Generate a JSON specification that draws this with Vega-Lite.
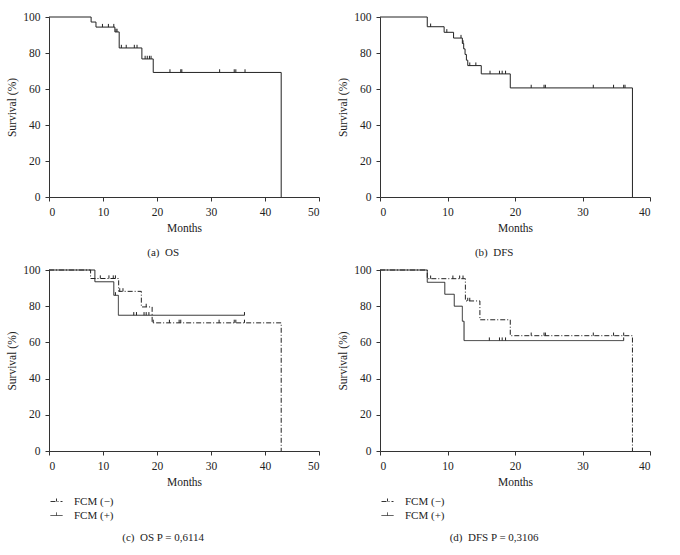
{
  "$schema": "https://vega.github.io/schema/vega-lite/v6.json",
  "padding": {"left": 6, "top": 11, "right": 5, "bottom": 5},
  "background": "white",
  "bounds": "flush",
  "columns": 2,
  "spacing": {"row": 73, "column": 61},
  "datasets": {
    "a_curve": [
      {"month": 0, "surv": 100}, {"month": 7.8, "surv": 97.2}, {"month": 8.7, "surv": 94.4},
      {"month": 12.2, "surv": 91.7}, {"month": 13.0, "surv": 82.8}, {"month": 17.2, "surv": 76.7},
      {"month": 19.3, "surv": 69.2}, {"month": 43.0, "surv": 0}
    ],
    "a_cens": [
      {"month": 9.9, "surv": 94.4}, {"month": 11.0, "surv": 94.4}, {"month": 12.0, "surv": 94.4},
      {"month": 12.4, "surv": 91.7}, {"month": 12.6, "surv": 91.7},
      {"month": 13.4, "surv": 82.8}, {"month": 14.3, "surv": 82.8}, {"month": 15.8, "surv": 82.8}, {"month": 16.3, "surv": 82.8},
      {"month": 17.8, "surv": 76.7}, {"month": 18.2, "surv": 76.7}, {"month": 18.6, "surv": 76.7}, {"month": 18.9, "surv": 76.7},
      {"month": 22.4, "surv": 69.2}, {"month": 24.4, "surv": 69.2}, {"month": 24.6, "surv": 69.2}, {"month": 31.6, "surv": 69.2},
      {"month": 34.3, "surv": 69.2}, {"month": 34.6, "surv": 69.2}, {"month": 36.3, "surv": 69.2}
    ],
    "b_curve": [
      {"month": 0, "surv": 100}, {"month": 7.0, "surv": 94.6}, {"month": 9.5, "surv": 91.5},
      {"month": 10.9, "surv": 88.3}, {"month": 12.2, "surv": 85.3}, {"month": 12.4, "surv": 82.3},
      {"month": 12.6, "surv": 79.2}, {"month": 12.8, "surv": 76.0}, {"month": 13.0, "surv": 73.0},
      {"month": 15.0, "surv": 68.4}, {"month": 19.3, "surv": 60.6}, {"month": 37.4, "surv": 0}
    ],
    "b_cens": [
      {"month": 7.5, "surv": 94.6}, {"month": 9.9, "surv": 91.5}, {"month": 12.0, "surv": 88.3}, {"month": 12.3, "surv": 85.3},
      {"month": 13.3, "surv": 73.0}, {"month": 14.2, "surv": 73.0},
      {"month": 16.3, "surv": 68.4}, {"month": 17.7, "surv": 68.4}, {"month": 18.1, "surv": 68.4}, {"month": 18.6, "surv": 68.4},
      {"month": 22.4, "surv": 60.6}, {"month": 24.3, "surv": 60.6}, {"month": 24.5, "surv": 60.6}, {"month": 31.6, "surv": 60.6},
      {"month": 34.6, "surv": 60.6}, {"month": 36.1, "surv": 60.6}, {"month": 36.3, "surv": 60.6}
    ],
    "c_curve": [
      {"group": "FCM (−)", "month": 0, "surv": 100}, {"group": "FCM (−)", "month": 7.7, "surv": 95.3},
      {"group": "FCM (−)", "month": 12.9, "surv": 88.2}, {"group": "FCM (−)", "month": 17.1, "surv": 79.6},
      {"group": "FCM (−)", "month": 19.1, "surv": 70.8}, {"group": "FCM (−)", "month": 43.0, "surv": 0},
      {"group": "FCM (+)", "month": 0, "surv": 100}, {"group": "FCM (+)", "month": 8.5, "surv": 93.5},
      {"group": "FCM (+)", "month": 12.0, "surv": 86.0}, {"group": "FCM (+)", "month": 12.85, "surv": 75.0},
      {"group": "FCM (+)", "month": 36.2, "surv": 75.0}
    ],
    "c_cens": [
      {"group": "FCM (+)", "month": 12.3, "surv": 86.0},
      {"group": "FCM (+)", "month": 15.7, "surv": 75.0}, {"group": "FCM (+)", "month": 16.2, "surv": 75.0},
      {"group": "FCM (+)", "month": 17.6, "surv": 75.0}, {"group": "FCM (+)", "month": 18.0, "surv": 75.0},
      {"group": "FCM (+)", "month": 18.5, "surv": 75.0}, {"group": "FCM (+)", "month": 36.2, "surv": 75.0},
      {"group": "FCM (−)", "month": 9.5, "surv": 95.3}, {"group": "FCM (−)", "month": 11.1, "surv": 95.3},
      {"group": "FCM (−)", "month": 11.9, "surv": 95.3}, {"group": "FCM (−)", "month": 12.3, "surv": 95.3},
      {"group": "FCM (−)", "month": 13.1, "surv": 88.2}, {"group": "FCM (−)", "month": 13.7, "surv": 88.2},
      {"group": "FCM (−)", "month": 18.0, "surv": 79.6},
      {"group": "FCM (−)", "month": 19.3, "surv": 70.8}, {"group": "FCM (−)", "month": 22.3, "surv": 70.8},
      {"group": "FCM (−)", "month": 24.1, "surv": 70.8}, {"group": "FCM (−)", "month": 24.4, "surv": 70.8},
      {"group": "FCM (−)", "month": 31.5, "surv": 70.8}, {"group": "FCM (−)", "month": 34.3, "surv": 70.8},
      {"group": "FCM (−)", "month": 34.6, "surv": 70.8}, {"group": "FCM (−)", "month": 36.2, "surv": 70.8}
    ],
    "d_curve": [
      {"group": "FCM (−)", "month": 0, "surv": 100}, {"group": "FCM (−)", "month": 7.0, "surv": 95.2},
      {"group": "FCM (−)", "month": 12.65, "surv": 82.9}, {"group": "FCM (−)", "month": 14.8, "surv": 72.5},
      {"group": "FCM (−)", "month": 19.3, "surv": 63.7}, {"group": "FCM (−)", "month": 37.4, "surv": 0},
      {"group": "FCM (+)", "month": 0, "surv": 100}, {"group": "FCM (+)", "month": 7.0, "surv": 93.2},
      {"group": "FCM (+)", "month": 9.6, "surv": 86.6}, {"group": "FCM (+)", "month": 11.0, "surv": 80.0},
      {"group": "FCM (+)", "month": 12.2, "surv": 71.7}, {"group": "FCM (+)", "month": 12.45, "surv": 61.0},
      {"group": "FCM (+)", "month": 36.1, "surv": 61.0}
    ],
    "d_cens": [
      {"group": "FCM (+)", "month": 16.2, "surv": 61.0}, {"group": "FCM (+)", "month": 17.7, "surv": 61.0},
      {"group": "FCM (+)", "month": 18.1, "surv": 61.0}, {"group": "FCM (+)", "month": 18.6, "surv": 61.0},
      {"group": "FCM (+)", "month": 36.1, "surv": 61.0},
      {"group": "FCM (−)", "month": 7.5, "surv": 95.2}, {"group": "FCM (−)", "month": 10.8, "surv": 95.2},
      {"group": "FCM (−)", "month": 11.8, "surv": 95.2}, {"group": "FCM (−)", "month": 12.3, "surv": 95.2},
      {"group": "FCM (−)", "month": 13.0, "surv": 82.9}, {"group": "FCM (−)", "month": 13.3, "surv": 82.9},
      {"group": "FCM (−)", "month": 22.4, "surv": 63.7}, {"group": "FCM (−)", "month": 24.3, "surv": 63.7},
      {"group": "FCM (−)", "month": 24.5, "surv": 63.7}, {"group": "FCM (−)", "month": 31.6, "surv": 63.7},
      {"group": "FCM (−)", "month": 34.6, "surv": 63.7}, {"group": "FCM (−)", "month": 36.1, "surv": 63.7}
    ]
  },
  "concat": [
    {
      "width": 270, "height": 180,
      "title": {"text": "(a)\u00a0 OS", "offset": 13},
      "encoding": {
        "x": {"field": "month", "type": "quantitative", "scale": {"domain": [0, 50], "nice": false}, "axis": {"title": "Months", "values": [0, 10, 20, 30, 40, 50]}},
        "y": {"field": "surv", "type": "quantitative", "scale": {"domain": [0, 100], "nice": false}, "axis": {"title": "Survival (%)", "values": [0, 20, 40, 60, 80, 100]}}
      },
      "layer": [
        {"data": {"name": "a_curve"}, "mark": {"type": "line", "interpolate": "step-after", "color": "#222", "strokeWidth": 1}},
        {"data": {"name": "a_cens"}, "mark": {"type": "point", "shape": "M0,0V-1", "size": 40, "filled": false, "stroke": "#222", "strokeWidth": 1, "opacity": 1}}
      ]
    },
    {
      "width": 270, "height": 180,
      "title": {"text": "(b)\u00a0 DFS", "offset": 13},
      "encoding": {
        "x": {"field": "month", "type": "quantitative", "scale": {"domain": [0, 40], "nice": false}, "axis": {"title": "Months", "values": [0, 10, 20, 30, 40]}},
        "y": {"field": "surv", "type": "quantitative", "scale": {"domain": [0, 100], "nice": false}, "axis": {"title": "Survival (%)", "values": [0, 20, 40, 60, 80, 100]}}
      },
      "layer": [
        {"data": {"name": "b_curve"}, "mark": {"type": "line", "interpolate": "step-after", "color": "#222", "strokeWidth": 1}},
        {"data": {"name": "b_cens"}, "mark": {"type": "point", "shape": "M0,0V-1", "size": 40, "filled": false, "stroke": "#222", "strokeWidth": 1, "opacity": 1}}
      ]
    },
    {
      "width": 270, "height": 181,
      "title": {"text": "(c)\u00a0 OS P = 0,6114", "offset": 11},
      "encoding": {
        "x": {"field": "month", "type": "quantitative", "scale": {"domain": [0, 50], "nice": false}, "axis": {"title": "Months", "values": [0, 10, 20, 30, 40, 50]}},
        "y": {"field": "surv", "type": "quantitative", "scale": {"domain": [0, 100], "nice": false}, "axis": {"title": "Survival (%)", "values": [0, 20, 40, 60, 80, 100]}}
      },
      "layer": [
        {
          "data": {"name": "c_curve"},
          "mark": {"type": "line", "interpolate": "step-after", "color": "#222", "strokeWidth": 1},
          "encoding": {
            "strokeDash": {"field": "group", "type": "nominal", "scale": {"domain": ["FCM (−)", "FCM (+)"], "range": [[5, 2, 1, 2], [1, 0]]}, "legend": {"title": null, "orient": "none", "legendX": 1, "legendY": 225}}
          }
        },
        {"data": {"name": "c_cens"}, "mark": {"type": "point", "shape": "M0,0V-1", "size": 40, "filled": false, "stroke": "#222", "strokeWidth": 1, "opacity": 1}}
      ]
    },
    {
      "width": 270, "height": 181,
      "title": {"text": "(d)\u00a0 DFS P = 0,3106", "offset": 11},
      "encoding": {
        "x": {"field": "month", "type": "quantitative", "scale": {"domain": [0, 40], "nice": false}, "axis": {"title": "Months", "values": [0, 10, 20, 30, 40]}},
        "y": {"field": "surv", "type": "quantitative", "scale": {"domain": [0, 100], "nice": false}, "axis": {"title": "Survival (%)", "values": [0, 20, 40, 60, 80, 100]}}
      },
      "layer": [
        {
          "data": {"name": "d_curve"},
          "mark": {"type": "line", "interpolate": "step-after", "color": "#222", "strokeWidth": 1},
          "encoding": {
            "strokeDash": {"field": "group", "type": "nominal", "scale": {"domain": ["FCM (−)", "FCM (+)"], "range": [[5, 2, 1, 2], [1, 0]]}, "legend": {"title": null, "orient": "none", "legendX": 1, "legendY": 225}}
          }
        },
        {"data": {"name": "d_cens"}, "mark": {"type": "point", "shape": "M0,0V-1", "size": 40, "filled": false, "stroke": "#222", "strokeWidth": 1, "opacity": 1}}
      ]
    }
  ],
  "resolve": {"scale": {"strokeDash": "independent"}, "legend": {"strokeDash": "independent"}},
  "config": {
    "font": "Liberation Serif",
    "view": {"stroke": null},
    "axis": {
      "grid": false, "labelFont": "Liberation Serif", "titleFont": "Liberation Serif",
      "labelFontSize": 11.5, "titleFontSize": 11.5, "titleFontWeight": "normal",
      "labelColor": "#222", "titleColor": "#222", "domainColor": "#333", "tickColor": "#333",
      "tickSize": 4, "labelPadding": 5, "titlePadding": 5, "labelOverlap": false
    },
    "title": {"fontSize": 11, "fontWeight": "normal", "font": "Liberation Serif", "orient": "bottom", "frame": "bounds", "anchor": "middle", "color": "#222"},
    "legend": {
      "symbolType": "M-1,0H1M0,0V-0.5", "symbolSize": 144, "symbolStrokeWidth": 1, "symbolStrokeColor": "#333",
      "labelFont": "Liberation Serif", "labelFontSize": 11, "labelColor": "#222", "labelOffset": 11, "rowPadding": 2
    }
  }
}
